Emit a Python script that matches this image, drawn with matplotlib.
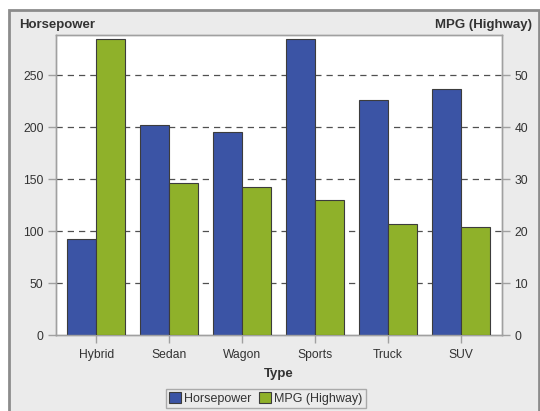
import matplotlib
matplotlib.use('Agg')
import matplotlib.pyplot as plt
import matplotlib.patches as mpatches
import numpy as np

# values
types = ["Hybrid", "Sedan", "Wagon", "Sports", "Truck", "SUV"]
horsepower = [92, 201.5, 195, 284.5, 226, 236.5]
mpg_highway = [56.9, 29.2, 28.4, 26.0, 21.4, 20.8]
hp_ticks = [0, 50, 100, 150, 200, 250]
mpg_ticks = [0, 10, 20, 30, 40, 50]

blue = '#3B54A5'
green = '#8FB12A'
edge = '#3C3C3C'
axcol = '#A0A0A0'
bg = '#EBEBEB'

plt.rcParams['font.family'] = ['Liberation Sans', 'DejaVu Sans']

fig = plt.figure(figsize=(5.4, 4.11), dpi=100)
fig.patch.set_facecolor('white')
# gray panel with darker frame
fig.patches.append(mpatches.Rectangle((8.5/540, -0.05), 530/540, 1 - 9.5/411 + 0.05,
                                      transform=fig.transFigure, facecolor=bg,
                                      edgecolor='#8C8C8C', linewidth=2, zorder=-10))

ax = fig.add_axes([56/540, 1 - 335/411, 446/540, 300/411])
ax2 = ax.twinx()

x = np.arange(len(types))
w = 0.4
ax.bar(x - w/2, horsepower, w, color=blue, edgecolor=edge, linewidth=0.8, zorder=3)
ax2.bar(x + w/2, mpg_highway, w, color=green, edgecolor=edge, linewidth=0.8, zorder=3)

ax.set_xlim(-0.55, 5.56)
ax.set_ylim(0, 288.5)
ax2.set_ylim(0, 57.7)
ax.set_yticks(hp_ticks)
ax2.set_yticks(mpg_ticks)
ax.set_xticks(x)
ax.set_xticklabels(types)

for t in hp_ticks[1:]:
    ax.axhline(t, color='#505050', linestyle=(0, (5, 4)), linewidth=0.9, zorder=1)

for a in (ax, ax2):
    for s in a.spines.values():
        s.set_color(axcol)
        s.set_linewidth(1.0)
    a.tick_params(colors=axcol, labelcolor='#333333', labelsize=8.7, length=6, width=1)
ax.tick_params(axis='x', pad=4)
ax.tick_params(axis='y', pad=3)
ax2.tick_params(axis='y', pad=3)
ax.set_facecolor('white')

fig.text(19/540, 1 - 25/411, "Horsepower", fontsize=9.5, fontweight='bold',
         color='#333333', ha='left', va='center')
fig.text(532/540, 1 - 25/411, "MPG (Highway)", fontsize=9.5, fontweight='bold',
         color='#333333', ha='right', va='center')
ax.set_xlabel("Type", fontsize=9.5, fontweight='bold', color='#333333', labelpad=5)

handles = [mpatches.Patch(facecolor=blue, edgecolor=edge, linewidth=0.8, label='Horsepower'),
           mpatches.Patch(facecolor=green, edgecolor=edge, linewidth=0.8, label='MPG (Highway)')]
leg = fig.legend(handles=handles, loc='center', bbox_to_anchor=(266/540, 1 - 398.5/411),
                 ncol=2, fontsize=9, frameon=True, fancybox=False, handlelength=0.9,
                 handleheight=0.9, handletextpad=0.3, columnspacing=0.6,
                 borderpad=0.25, borderaxespad=0)
leg.get_frame().set_edgecolor('#9A9A9A')
leg.get_frame().set_facecolor(bg)
leg.get_frame().set_linewidth(1)
for t in leg.get_texts():
    t.set_color('#333333')

plt.savefig('out.png', dpi=100, facecolor=fig.get_facecolor())
